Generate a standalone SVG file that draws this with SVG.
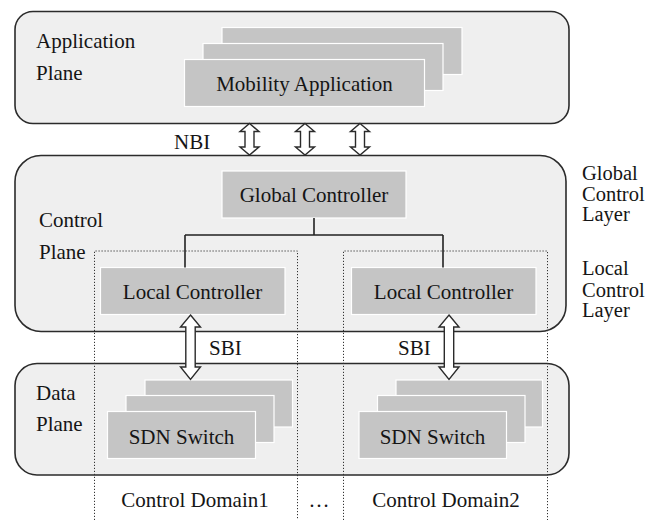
<svg xmlns="http://www.w3.org/2000/svg" width="660" height="520" viewBox="0 0 660 520">
<style>
.plane{fill:#efefef;stroke:#2b2b2b;stroke-width:1.6}
.box{fill:#c5c5c5;stroke:#ffffff;stroke-width:1.2}
.t{font-family:'Liberation Serif','Times New Roman',serif;font-size:21px;fill:#151515}
.tr{font-family:'Liberation Serif','Times New Roman',serif;font-size:20.5px;fill:#151515}
.c{text-anchor:middle}
.dot{fill:none;stroke:#333;stroke-width:1;stroke-dasharray:1.2 1.8}
.arr{fill:#ffffff;stroke:#2b2b2b;stroke-width:1.4;stroke-linejoin:miter}
.link{fill:none;stroke:#222;stroke-width:1.6}
</style>
<rect width="660" height="520" fill="#ffffff"/>
<g id="application-plane">
<rect class="plane" x="15" y="11.5" width="554" height="112" rx="18"/>
<text class="t" x="36" y="48">Application</text>
<text class="t" x="36" y="79.5">Plane</text>
</g>
<g id="control-plane">
<rect class="plane" x="15" y="155.5" width="551" height="176" rx="26"/>
<text class="t" x="39" y="226.5">Control</text>
<text class="t" x="39" y="259">Plane</text>
</g>
<g id="data-plane">
<rect class="plane" x="15" y="363.5" width="554" height="111.5" rx="22"/>
<text class="t" x="36" y="400">Data</text>
<text class="t" x="36" y="431">Plane</text>
</g>
<g id="control-domain1">
<path class="dot" d="M94.5,520 V251 H297.5 V520"/>
<text class="t c" x="195" y="506.5">Control Domain1</text>
</g>
<g id="control-domain2">
<path class="dot" d="M343.5,520 V251 H547.5 V520"/>
<text class="t c" x="446" y="506.5">Control Domain2</text>
</g>
<g id="ellipsis">
<text class="t c" x="319" y="506.5">…</text>
</g>
<g id="global-control-layer-label">
<text class="tr" x="582" y="180">Global</text>
<text class="tr" x="582" y="200.5">Control</text>
<text class="tr" x="582" y="221">Layer</text>
</g>
<g id="local-control-layer-label">
<text class="tr" x="582" y="275">Local</text>
<text class="tr" x="582" y="296.5">Control</text>
<text class="tr" x="582" y="317">Layer</text>
</g>
<g id="mobility-application">
<rect class="box" x="222" y="27.5" width="240" height="47"/>
<rect class="box" x="203" y="43.5" width="240" height="47"/>
<rect class="box" x="184.5" y="59.5" width="240" height="47"/>
<text class="t c" x="304.5" y="91">Mobility Application</text>
</g>
<g id="global-controller">
<rect class="box" x="222" y="171" width="184" height="47"/>
<text class="t c" x="314" y="201.5">Global Controller</text>
</g>
<g id="local-controller1">
<rect class="box" x="100.5" y="267.5" width="184.5" height="47"/>
<text class="t c" x="192.5" y="299">Local Controller</text>
</g>
<g id="local-controller2">
<rect class="box" x="351.5" y="267.5" width="184.5" height="47"/>
<text class="t c" x="443.5" y="299">Local Controller</text>
</g>
<g id="sdn-switch1">
<rect class="box" x="145" y="380" width="147.5" height="47"/>
<rect class="box" x="126" y="395.5" width="148" height="47"/>
<rect class="box" x="107.5" y="411.5" width="148" height="47"/>
<text class="t c" x="181.5" y="443.5">SDN Switch</text>
</g>
<g id="sdn-switch2">
<rect class="box" x="396" y="380" width="146.5" height="47"/>
<rect class="box" x="377.5" y="395.5" width="147.5" height="47"/>
<rect class="box" x="359" y="411.5" width="147.5" height="47"/>
<text class="t c" x="432.5" y="443.5">SDN Switch</text>
</g>
<g id="connectors">
<path class="link" d="M314,218 V235 M185,235 H443 M185,235 V267.5 M443,235 V267.5"/>
<polygon class="arr" points="249.5,123.5 259,131.5 254,131.5 254,147 259,147 249.5,155 240,147 245,147 245,131.5 240,131.5"/>
<polygon class="arr" points="305,123.5 314.5,131.5 309.5,131.5 309.5,147 314.5,147 305,155 295.5,147 300.5,147 300.5,131.5 295.5,131.5"/>
<polygon class="arr" points="360,123.5 369.5,131.5 364.5,131.5 364.5,147 369.5,147 360,155 350.5,147 355.5,147 355.5,131.5 350.5,131.5"/>
<polygon class="arr" points="190.5,315 200.5,327 195.2,327 195.2,367 200.5,367 190.5,379.5 180.5,367 185.8,367 185.8,327 180.5,327"/>
<polygon class="arr" points="449,315 459,327 453.7,327 453.7,367 459,367 449,379.5 439,367 444.3,367 444.3,327 439,327"/>
<text class="t" x="174" y="148.5">NBI</text>
<text class="t" x="209" y="355">SBI</text>
<text class="t" x="398" y="355">SBI</text>
</g>
</svg>
